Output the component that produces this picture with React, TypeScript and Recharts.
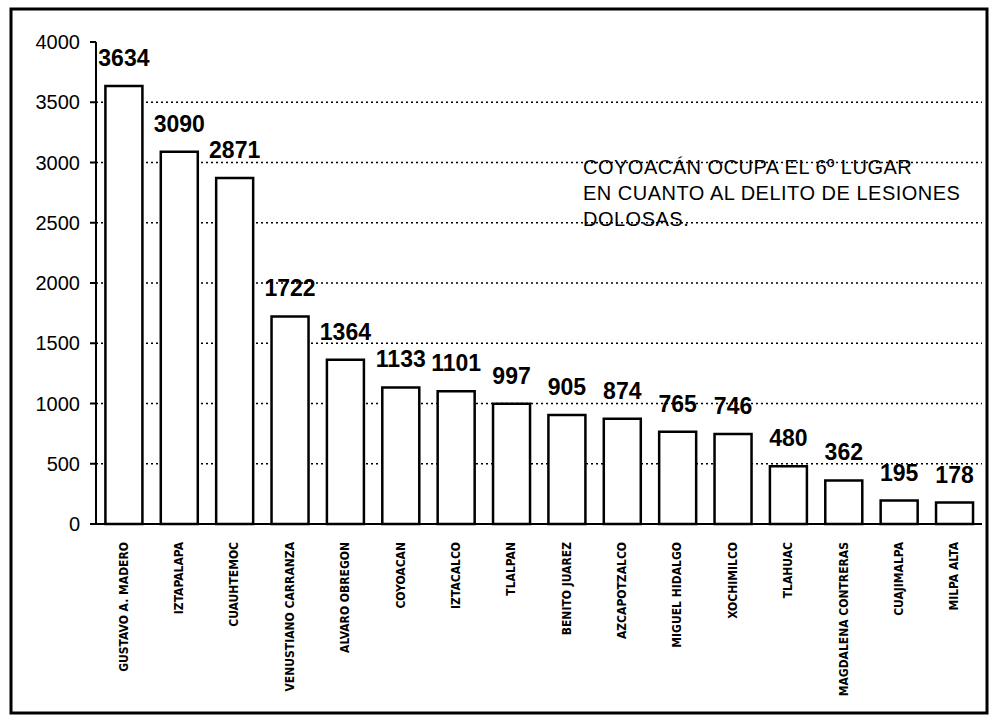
import React from "react";
import {
    BarChart,
    Bar,
    XAxis,
    YAxis,
    CartesianGrid,
    LabelList,
} from "recharts";

// delegaciones y total de lesiones dolosas
const DELEGACIONES = [
    "GUSTAVO A. MADERO",
    "IZTAPALAPA",
    "CUAUHTEMOC",
    "VENUSTIANO CARRANZA",
    "ALVARO OBREGON",
    "COYOACAN",
    "IZTACALCO",
    "TLALPAN",
    "BENITO JUAREZ",
    "AZCAPOTZALCO",
    "MIGUEL HIDALGO",
    "XOCHIMILCO",
    "TLAHUAC",
    "MAGDALENA CONTRERAS",
    "CUAJIMALPA",
    "MILPA ALTA",
];
const LESIONES = [
    3634, 3090, 2871, 1722, 1364, 1133, 1101, 997, 905, 874, 765, 746, 480,
    362, 195, 178,
];
const Y_TICKS = [0, 500, 1000, 1500, 2000, 2500, 3000, 3500, 4000];
const GRID_VALUES = [500, 1000, 1500, 2000, 2500, 3000, 3500];
const NOTA = [
    "COYOACÁN OCUPA EL 6º LUGAR",
    "EN CUANTO AL DELITO DE LESIONES",
    "DOLOSAS.",
];

const data = DELEGACIONES.map((name, i) => ({ name, value: LESIONES[i] }));

const FONT = "'Liberation Sans', Arial, sans-serif";
const NARROW = "'Liberation Sans Narrow', 'DejaVu Sans Condensed', Arial, sans-serif";

const XTick = (props: any) => {
    const { x, y, payload } = props;
    return (
        <text
            transform={`translate(${x},${y + 10}) rotate(-90)`}
            textAnchor="end"
            dy={4}
            fontFamily={NARROW}
            fontWeight="bold"
            fontSize={12}
            fill="#000"
        >
            {payload.value}
        </text>
    );
};

const ValueLabel = (props: any) => {
    const { x, y, width, value } = props;
    return (
        <text
            x={x + width / 2}
            y={y - 20}
            textAnchor="middle"
            fontFamily={FONT}
            fontWeight="bold"
            fontSize={23}
            fill="#000"
        >
            {value}
        </text>
    );
};

export default function App() {
    return (
        <div
            style={{
                position: "absolute",
                left: 0,
                top: 0,
                width: 996,
                height: 725,
                background: "#fff",
            }}
        >
            <BarChart
                width={996}
                height={725}
                data={data}
                margin={{ top: 42, right: 14, bottom: 11, left: 0 }}
                barCategoryGap="17%"
            >
                <CartesianGrid
                    vertical={false}
                    horizontalValues={GRID_VALUES}
                    stroke="#000"
                    strokeDasharray="2 3"
                    strokeWidth={1.3}
                />
                <XAxis
                    dataKey="name"
                    interval={0}
                    height={190}
                    tick={<XTick />}
                    tickLine={false}
                    axisLine={{ stroke: "#000", strokeWidth: 2 }}
                />
                <YAxis
                    width={96}
                    domain={[0, 4000]}
                    ticks={Y_TICKS}
                    interval={0}
                    tickSize={6}
                    tickMargin={10}
                    axisLine={{ stroke: "#000", strokeWidth: 2 }}
                    tickLine={{ stroke: "#000", strokeWidth: 2 }}
                    tick={{ fill: "#000", fontSize: 20, fontFamily: FONT }}
                />
                <Bar
                    dataKey="value"
                    fill="#fff"
                    stroke="#000"
                    strokeWidth={2.5}
                    isAnimationActive={false}
                >
                    <LabelList dataKey="value" content={<ValueLabel />} />
                </Bar>
            </BarChart>
            <svg
                width={996}
                height={725}
                style={{ position: "absolute", left: 0, top: 0, pointerEvents: "none" }}
            >
                <rect
                    x={11}
                    y={9}
                    width={976}
                    height={704}
                    fill="none"
                    stroke="#000"
                    strokeWidth={3}
                />
                {NOTA.map((line, i) => (
                    <text
                        key={i}
                        x={583}
                        y={174 + i * 26}
                        fontFamily={FONT}
                        fontSize={20}
                        letterSpacing={0.5}
                        fill="#000"
                    >
                        {line}
                    </text>
                ))}
            </svg>
        </div>
    );
}
